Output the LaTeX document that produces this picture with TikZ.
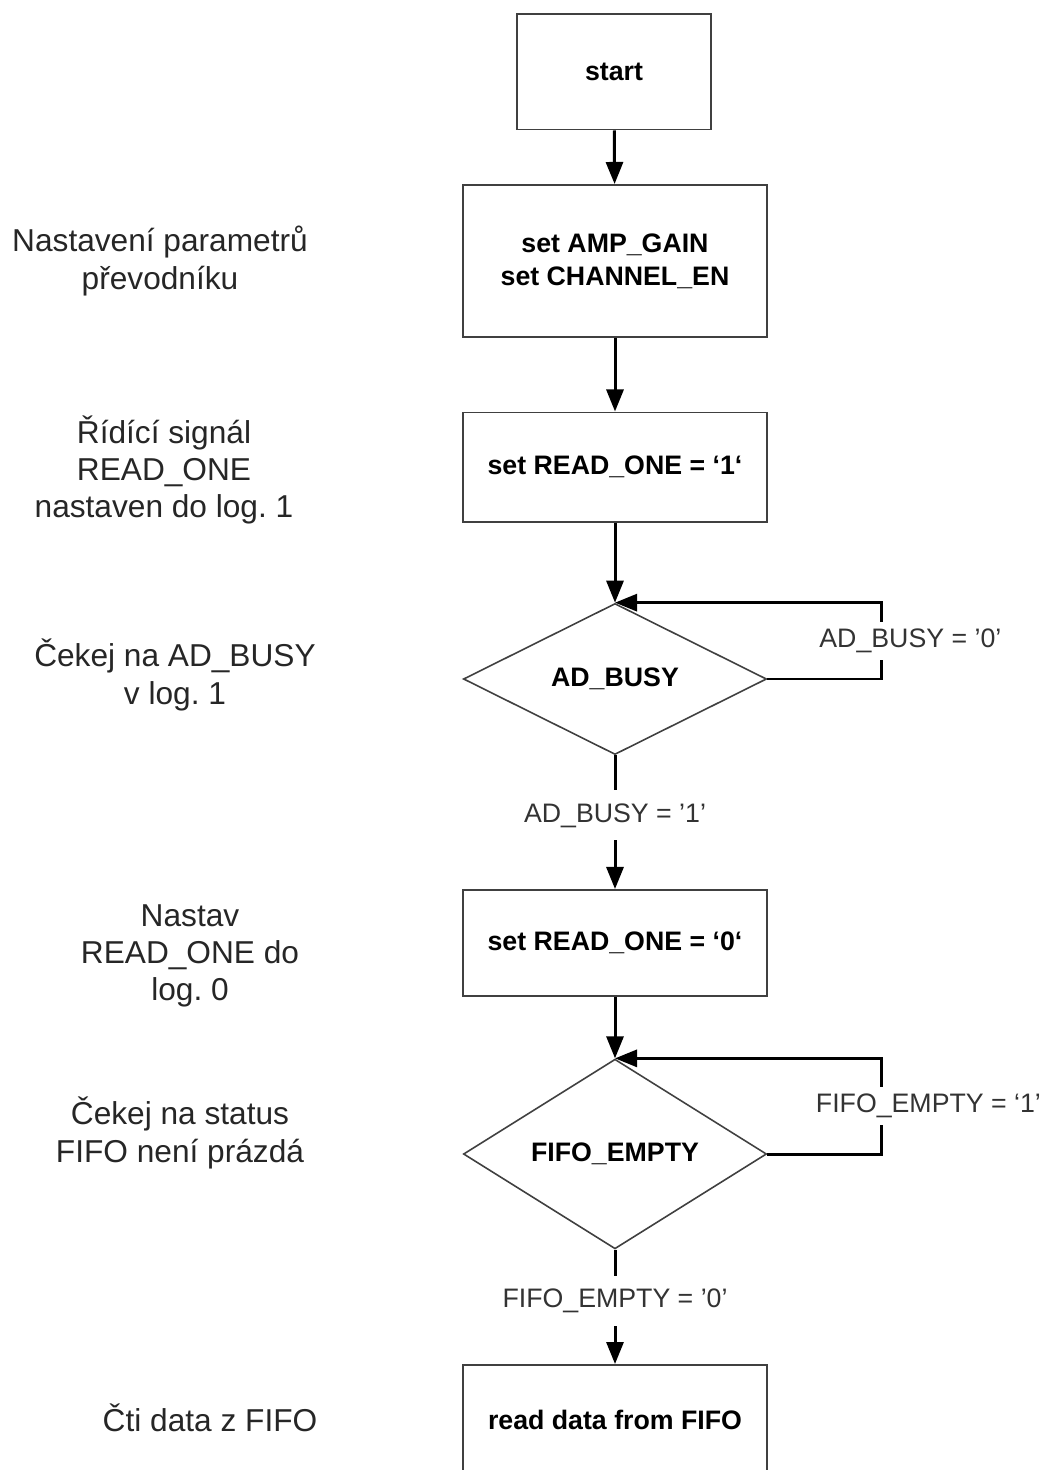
\documentclass[tikz,border=0pt]{standalone}
\usepackage{fontspec}
\setmainfont{Liberation Sans}
\usetikzlibrary{arrows.meta,shapes.geometric}
\frenchspacing

\begin{document}
\begin{tikzpicture}[x=0.01cm, y=-0.01cm,
  blok/.style={draw=black!75, line width=0.55pt, minimum width=3.03cm, inner sep=0pt,
    align=center, font=\fontsize{7.6}{9.4}\selectfont\bfseries},
  podminka/.style={diamond, draw=black!75, line width=0.45pt, minimum width=3.03cm,
    minimum height=1.51cm, inner sep=0pt, font=\fontsize{7.6}{9.4}\selectfont\bfseries},
  popis/.style={align=center, text=black!85, font=\fontsize{9}{10.6}\selectfont},
  hodnota/.style={fill=white, inner xsep=1pt, text=black!80, font=\fontsize{7.6}{9}\selectfont},
  tok/.style={line width=0.85pt, -{Triangle[length=0.22cm, width=0.17cm]}}]
\useasboundingbox (0,0) rectangle (1043,1470);
\clip (0,0) rectangle (1043,1470);
% =====================
% BLOKY
% =====================
\node[blok, minimum width=1.93cm, minimum height=1.15cm] (start) at (614,72) {start};
\node[blok, minimum height=1.52cm] (nastav) at (615,261) {set AMP\_GAIN\\set CHANNEL\_EN};
\node[blok, minimum height=1.09cm] (read1) at (615,467) {set READ\_ONE = `1`};
\node[podminka] (busy) at (615,679) {AD\_BUSY};
\node[blok, minimum height=1.06cm] (read0) at (615,943) {set READ\_ONE = `0`};
\node[podminka] (empty) at (615,1154) {FIFO\_EMPTY};
\node[blok, minimum height=1.10cm] (data) at (615,1420) {read data from FIFO};

% =====================
% SPOJE
% =====================
\draw[tok] (start) -- (nastav);
\draw[tok] (nastav) -- (read1);
\draw[tok] (read1) -- (busy.north);
\draw[tok] (busy.east) -- ++(114,0) |- (busy.north)
node[hodnota, pos=0.25, inner ysep=0.07cm, xshift=0.29cm]{AD\_BUSY = '0'};
\draw[tok] (busy.south) -- (read0.north)
node[hodnota, pos=0.45, inner ysep=0.13cm]{AD\_BUSY = '1'};
\draw[tok] (read0) -- (empty.north);
\draw[tok] (empty.east) -- ++(114,0) |- (empty.north)
node[hodnota, pos=0.25, inner ysep=0.07cm, xshift=0.47cm]{FIFO\_EMPTY = `1'};
\draw[tok] (empty.south) -- (data.north)
node[hodnota, pos=0.45, inner ysep=0.13cm]{FIFO\_EMPTY = '0'};

% =====================
% POPISY VLEVO
% =====================
\node[popis] (pNastav) at (160,261) {Nastavení parametrů\\převodníku};
\node[popis] (pRead1) at (164,470) {Řídící signál\\READ\_ONE\\nastaven do log. 1};
\node[popis] (pBusy) at (175,675) {Čekej na AD\_BUSY\\v log. 1};
\node[popis] (pRead0) at (190,956) {Nastav\\READ\_ONE do\\log. 0};
\node[popis] (pEmpty) at (180,1133) {Čekej na status\\FIFO není prázdá};
\node[popis] (pData) at (210,1418) {Čti data z FIFO};
\end{tikzpicture}
\end{document}
